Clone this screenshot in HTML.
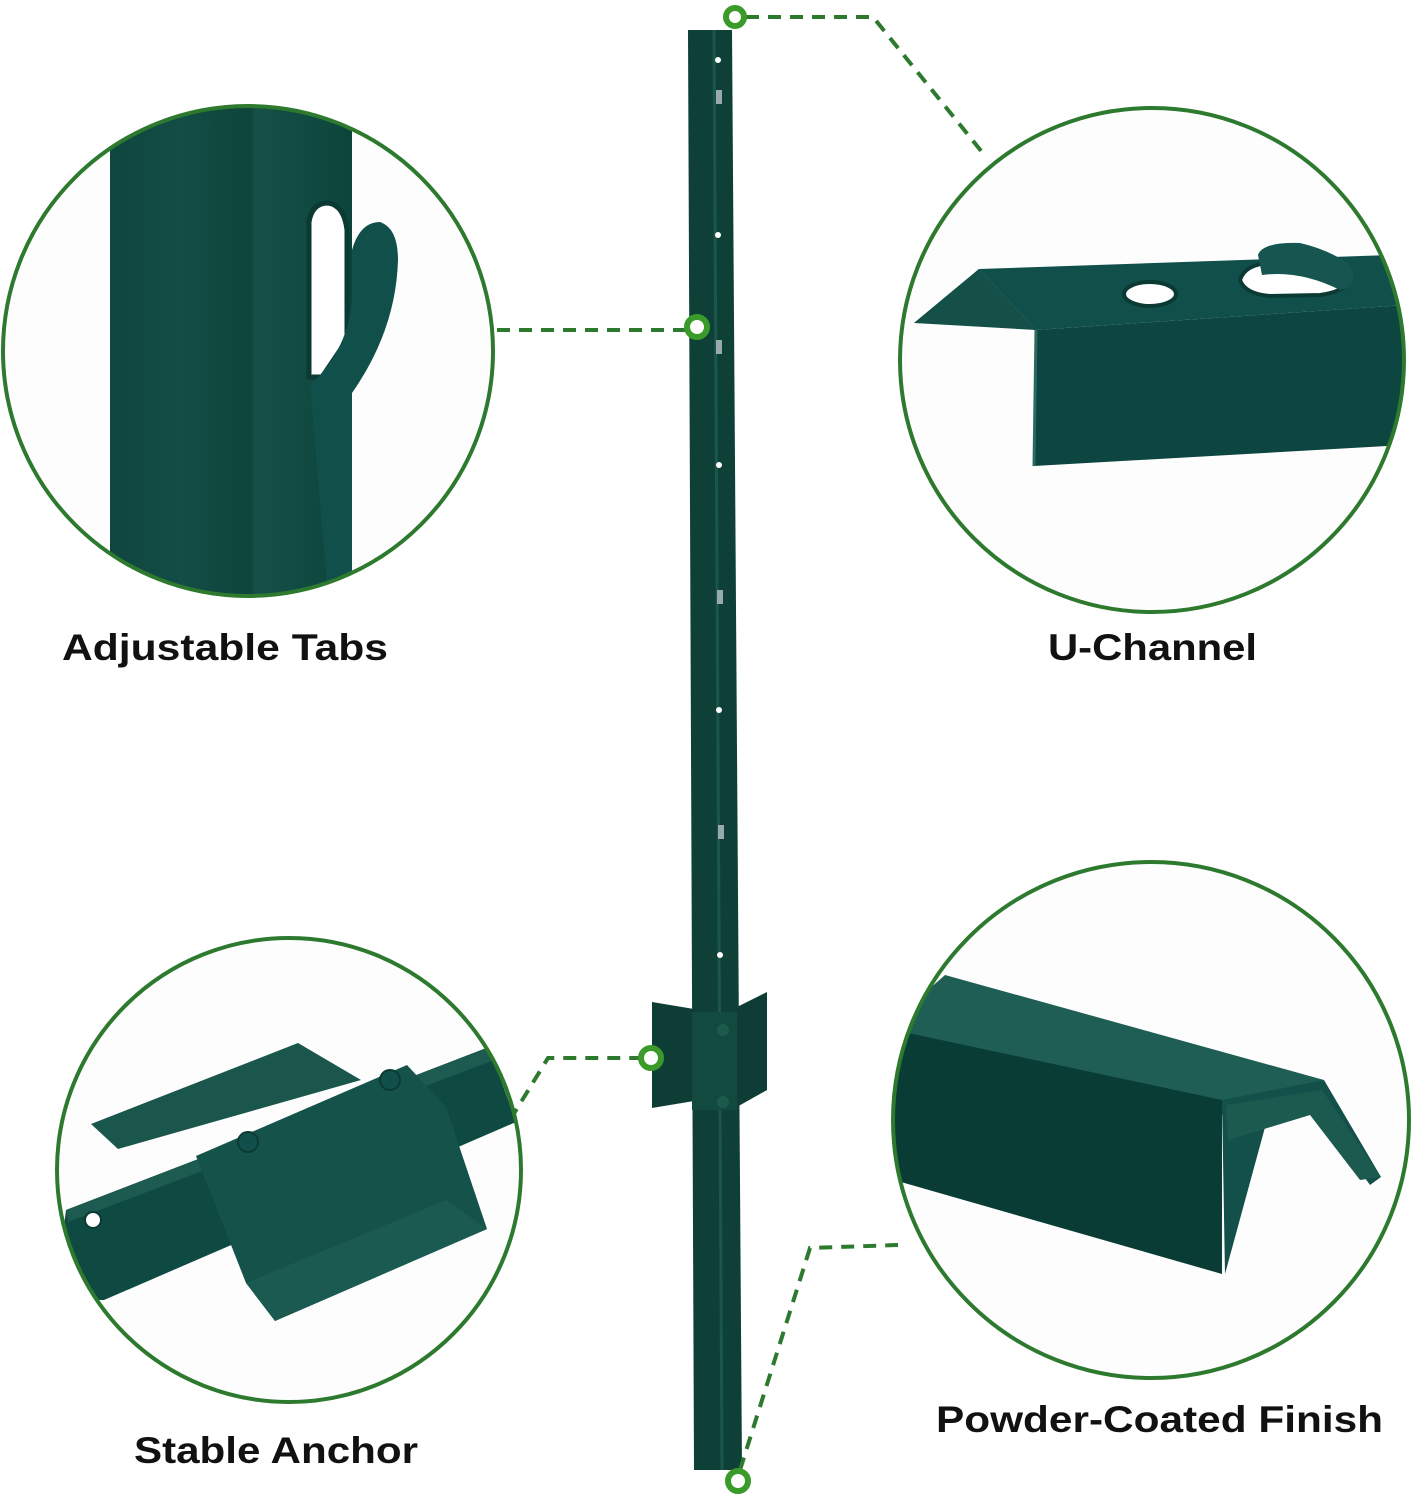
<!DOCTYPE html>
<html><head><meta charset="utf-8"><style>
html,body{margin:0;padding:0;background:#fff;}
svg{display:block}
text{font-family:"Liberation Sans",sans-serif;font-weight:bold;fill:#111;}
</style></head><body>
<svg width="1416" height="1500" viewBox="0 0 1416 1500" xmlns="http://www.w3.org/2000/svg">
<defs>
<clipPath id="c1"><circle cx="248" cy="351" r="245"/></clipPath>
<clipPath id="c2"><circle cx="1152" cy="360" r="252"/></clipPath>
<clipPath id="c3"><circle cx="289" cy="1170" r="232"/></clipPath>
<clipPath id="c4"><circle cx="1151" cy="1120" r="258"/></clipPath>
<linearGradient id="g1" x1="0" x2="1"><stop offset="0" stop-color="#0f4640"/><stop offset=".3" stop-color="#134d45"/><stop offset=".58" stop-color="#0e443c"/><stop offset=".6" stop-color="#155048"/><stop offset="1" stop-color="#0c443b"/></linearGradient>
</defs>

<!-- post -->
<polygon points="688,30 732,30 742,1470 694,1470" fill="#0e4038"/>
<line x1="714" y1="30" x2="722" y2="1470" stroke="#1b564a" stroke-width="3"/>
<polygon points="652,1002 700,1010 700,1100 652,1108" fill="#0d3d35"/>
<polygon points="735,1008 767,992 767,1090 735,1108" fill="#0d3d35"/>
<rect x="692" y="1012" width="45" height="98" fill="#134a40"/>
<g fill="#fff">
<circle cx="718" cy="60" r="3"/><circle cx="718" cy="235" r="3"/><circle cx="719" cy="465" r="3"/><circle cx="719" cy="710" r="3"/><circle cx="720" cy="955" r="3"/>
</g>
<g fill="#9aa"><rect x="716" y="90" width="6" height="14"/><rect x="716" y="340" width="6" height="14"/><rect x="717" y="590" width="6" height="14"/><rect x="718" y="825" width="6" height="14"/></g>
<circle cx="723" cy="1030" r="6" fill="#1d5a4c"/><circle cx="723" cy="1102" r="6" fill="#1d5a4c"/>

<!-- dashed connectors -->
<g stroke="#2d7a2f" stroke-width="4" stroke-dasharray="13,9" fill="none">
<polyline points="746,17 873,17 982,152"/>
<polyline points="497,330 686,330"/>
<polyline points="510,1120 548,1058 640,1058"/>
<polyline points="740,1470 810,1248 898,1245"/>
</g>
<g fill="#fff" stroke="#3a9a2a" stroke-width="6">
<circle cx="735" cy="17" r="9"/><circle cx="697" cy="327" r="10"/><circle cx="651" cy="1058" r="10"/><circle cx="738" cy="1481" r="10"/>
</g>

<!-- circle 1 -->
<g clip-path="url(#c1)">
<rect x="0" y="100" width="500" height="520" fill="#fdfdfd"/>
<rect x="110" y="100" width="242" height="520" fill="url(#g1)"/>
<path d="M309,377 L309,222 Q312,203 328,203 Q344,205 347,230 L347,340 L322,377 Z" fill="#fff" stroke="#0a3a33" stroke-width="5"/>
<path d="M310,385 Q348,350 352,300 L352,250 Q360,222 380,222 Q398,228 398,260 Q396,330 352,393 L352,620 L330,620 Z" fill="#11504a"/>
</g>
<circle cx="248" cy="351" r="245" fill="none" stroke="#2d7a2f" stroke-width="4"/>

<!-- circle 2 -->
<g clip-path="url(#c2)">
<rect x="890" y="100" width="530" height="520" fill="#fdfdfd"/>
<polygon points="914,323 979,269 1036,330 1034,330 990,296" fill="#1b5a50"/>
<polygon points="914,323 979,269 1036,330" fill="#155048"/>
<polygon points="979,269 1390,255 1405,305 1036,330" fill="#11504a"/>
<polygon points="1036,330 1405,305 1405,445 1034,466" fill="#0d4640"/>
<line x1="1036" y1="330" x2="1034" y2="466" stroke="#2c6a60" stroke-width="3"/>
<ellipse cx="1150" cy="294" rx="26" ry="12" fill="#fff" stroke="#0a3a33" stroke-width="4"/>
<path d="M1240,280 Q1245,262 1280,262 L1350,270 Q1355,290 1320,295 L1270,296 Q1245,294 1240,280 Z" fill="#fff" stroke="#0a3a33" stroke-width="4"/>
<path d="M1258,255 Q1262,242 1300,243 Q1330,250 1350,265 Q1360,285 1340,290 Q1300,270 1262,275 Z" fill="#175650"/>
</g>
<circle cx="1152" cy="360" r="252" fill="none" stroke="#2d7a2f" stroke-width="4"/>

<!-- circle 3 -->
<g clip-path="url(#c3)">
<rect x="50" y="930" width="480" height="490" fill="#fdfdfd"/>
<polygon points="91,1124 298,1043 361,1080 118,1149" fill="#1b564c"/>
<polygon points="66,1210 489,1047 516,1122 104,1300 55,1300" fill="#0f4a42"/>
<polygon points="66,1210 489,1047 494,1060 68,1222" fill="#1d5a50"/>
<polygon points="196,1156 407,1065 446,1107 487,1229 275,1321 246,1283" fill="#14524a"/>
<polygon points="246,1283 446,1200 487,1229 275,1321" fill="#1b5a50"/>
<circle cx="93" cy="1220" r="8" fill="#fff" stroke="#0a3a33" stroke-width="2"/>
<circle cx="248" cy="1142" r="10" fill="#11504a" stroke="#0a3a33" stroke-width="2"/>
<circle cx="390" cy="1080" r="10" fill="#11504a" stroke="#0a3a33" stroke-width="2"/>
</g>
<circle cx="289" cy="1170" r="232" fill="none" stroke="#2d7a2f" stroke-width="4"/>

<!-- circle 4 -->
<g clip-path="url(#c4)">
<rect x="885" y="855" width="535" height="530" fill="#fdfdfd"/>
<polygon points="894,1020 945,975 1324,1080 1222,1115 894,1040" fill="#1f5e54"/>
<polygon points="894,1030 1222,1100 1222,1274 894,1180" fill="#0a3c36"/>
<polygon points="1222,1100 1324,1080 1381,1177 1370,1185 1320,1115 1270,1109 1225,1274" fill="#13504a"/>
<polygon points="1226,1105 1322,1090 1381,1177 1360,1180 1310,1115 1228,1140" fill="#1c5a50"/>
</g>
<circle cx="1151" cy="1120" r="258" fill="none" stroke="#2d7a2f" stroke-width="4"/>

<!-- labels -->
<text x="62" y="660" font-size="37" textLength="326" lengthAdjust="spacingAndGlyphs">Adjustable Tabs</text>
<text x="1048" y="660" font-size="37" textLength="209" lengthAdjust="spacingAndGlyphs">U-Channel</text>
<text x="936" y="1432" font-size="37" textLength="447" lengthAdjust="spacingAndGlyphs">Powder-Coated Finish</text>
<text x="134" y="1463" font-size="37" textLength="284" lengthAdjust="spacingAndGlyphs">Stable Anchor</text>
</svg>
</body></html>
